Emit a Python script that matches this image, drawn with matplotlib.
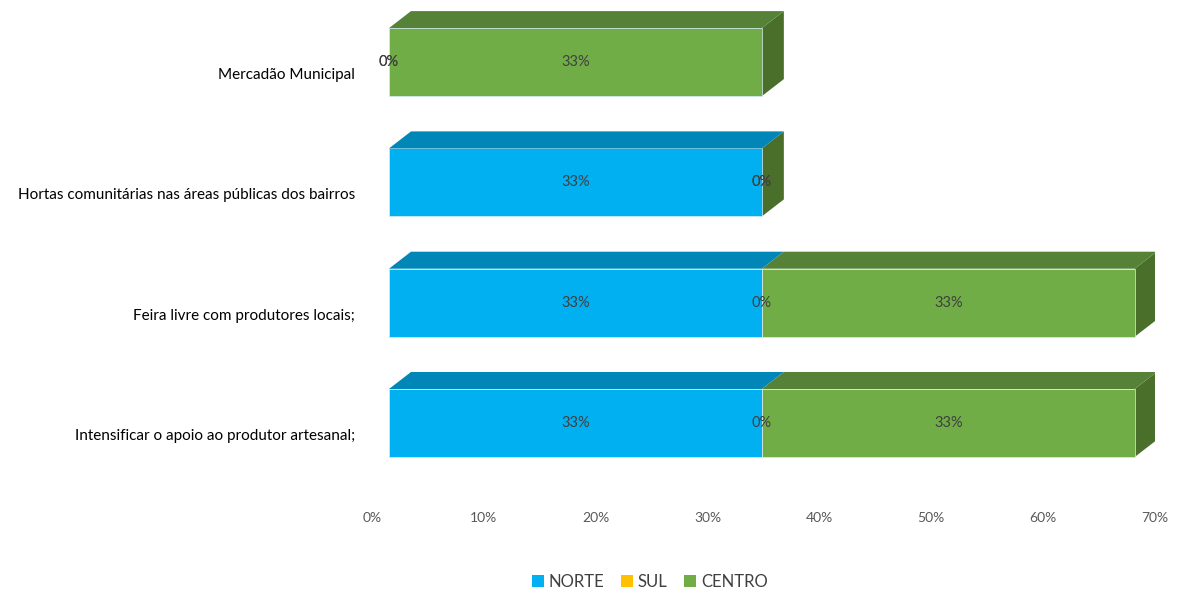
import matplotlib
matplotlib.use("Agg")
import matplotlib.pyplot as plt
from matplotlib.patches import Polygon, Patch
from matplotlib.ticker import PercentFormatter
import numpy as np

plt.rcParams["font.family"] = ["Lato", "DejaVu Sans"]

# bottom -> top
categories = [
    "Intensificar o apoio ao produtor artesanal;",
    "Feira livre com produtores locais;",
    "Hortas comunitárias nas áreas públicas dos bairros",
    "Mercadão Municipal",
]
series = ["NORTE", "SUL", "CENTRO"]
norte = [1 / 3, 1 / 3, 1 / 3, 0.0]
sul = [0.0, 0.0, 0.0, 0.0]
centro = [1 / 3, 1 / 3, 0.0, 1 / 3]
xticks = [0, 0.1, 0.2, 0.3, 0.4, 0.5, 0.6, 0.7]

front = {"NORTE": "#00B0F0", "SUL": "#FFC000", "CENTRO": "#70AD47"}
top_c = {"NORTE": "#0087B8", "SUL": "#C79500", "CENTRO": "#568237"}
side_c = {"NORTE": "#006F97", "SUL": "#A67C00", "CENTRO": "#4A6F2B"}

W, H, DPI = 1177, 595, 100
fig = plt.figure(figsize=(W / DPI, H / DPI), dpi=DPI)

# axes geometry in pixels
ax_l, ax_r, ax_t, ax_b = 372, 1155, 0, 505
ax = fig.add_axes([ax_l / W, 1 - ax_b / H, (ax_r - ax_l) / W, (ax_b - ax_t) / H])
row_px = 120.3
y0_px = 423
ax.set_xlim(0, 0.7)
ax.set_ylim(-(ax_b - y0_px) / row_px, (y0_px - ax_t) / row_px)

xu = 0.7 / (ax_r - ax_l)   # data per pixel
yu = 1 / row_px
shift = 17 * xu             # front face shift from the axis origin
ddx, ddy = 22 * xu, 17 * yu  # depth
bh = 68 * yu

vals = np.array([norte, sul, centro])
ypos = np.arange(len(categories))

for i, y in enumerate(ypos):
    left = 0.0
    lo, hi = y - bh / 2, y + bh / 2
    for s, name in enumerate(series):
        w = vals[s, i]
        x0, x1 = shift + left, shift + left + w
        if w > 0:
            ax.add_patch(Polygon([(x0, lo), (x1, lo), (x1, hi), (x0, hi)],
                                 facecolor=front[name], edgecolor="#d8eef8",
                                 linewidth=0.5, zorder=2))
            ax.add_patch(Polygon([(x0, hi), (x1, hi), (x1 + ddx, hi + ddy), (x0 + ddx, hi + ddy)],
                                 facecolor=top_c[name], edgecolor="none", zorder=2))
        ax.text((x0 + x1) / 2, y, f"{w:.0%}", ha="center", va="center",
                fontsize=10.5, color="#404040", zorder=5)
        left += w
    xe = shift + left
    ax.add_patch(Polygon([(xe, lo), (xe, hi), (xe + ddx, hi + ddy), (xe + ddx, lo + ddy)],
                         facecolor=side_c[series[-1]], edgecolor="none", zorder=1))
    ax.text(-17 * xu, y - 13 * yu, categories[i], ha="right", va="center",
            fontsize=11, color="#000000")

ax.set_xticks(xticks)
ax.xaxis.set_major_formatter(PercentFormatter(1.0, decimals=0))
ax.set_yticks([])
ax.tick_params(axis="x", length=0, pad=5, labelsize=10, labelcolor="#595959")
for sp in ax.spines.values():
    sp.set_visible(False)

handles = [Patch(facecolor=front[n], label=n) for n in series]
fig.legend(handles=handles, loc="center", bbox_to_anchor=(650 / W, 1 - 582 / H),
           ncol=3, frameon=False, fontsize=12, handlelength=0.7, handleheight=0.7,
           handletextpad=0.3, columnspacing=1.0, labelcolor="#404040")

fig.savefig("out.png", dpi=DPI)
